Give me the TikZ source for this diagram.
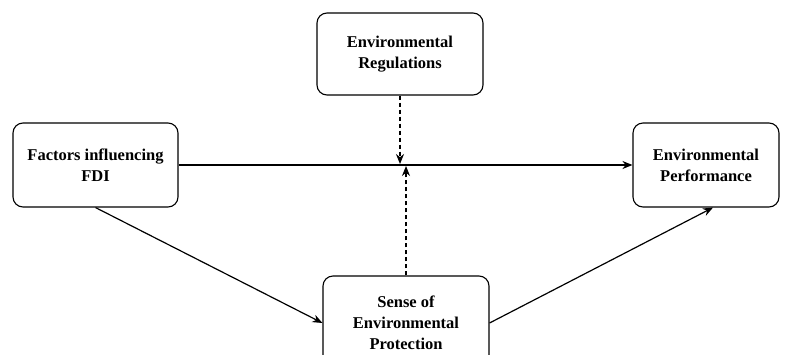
\documentclass[tikz,border=0pt]{standalone}
\usepackage{fontspec}
\setmainfont{Liberation Serif}
\usetikzlibrary{arrows.meta}
\begin{document}
\begin{tikzpicture}[x=1pt,y=-1pt,
  box/.style={draw, line width=1.1pt, rounded corners=10pt, align=center,
    font=\fontsize{16.5}{21}\selectfont\bfseries, inner sep=0pt},
  arr/.style={line width=1.2pt, -{Stealth[length=10pt,width=8pt]}},
  darr/.style={arr, dash pattern=on 4pt off 3pt}]
\useasboundingbox (0,0) rectangle (787,354);
\clip (0,0) rectangle (787,354);
\fill[white] (0,0) rectangle (787,354);
\node[box, minimum width=166pt, minimum height=82pt] (reg) at (400,54) {Environmental\\Regulations};
\node[box, minimum width=165pt, minimum height=84pt] (fdi) at (95.5,165) {Factors influencing\\FDI};
\node[box, minimum width=146pt, minimum height=84pt] (perf) at (706,165) {Environmental\\Performance};
\node[box, minimum width=166pt, minimum height=94pt] (sep) at (406,323) {Sense of\\Environmental\\Protection};
\coordinate (m1) at (400,164);
\coordinate (m2) at (406,166);
\draw[arr] (fdi.east) -- (perf.west);
\draw[darr] (reg.south) -- (m1);
\draw[darr] (sep.north) -- (m2);
\draw[arr] (fdi.south) -- (sep.west);
\draw[arr] (sep.east) -- ([xshift=7pt]perf.south);
\end{tikzpicture}
\end{document}
